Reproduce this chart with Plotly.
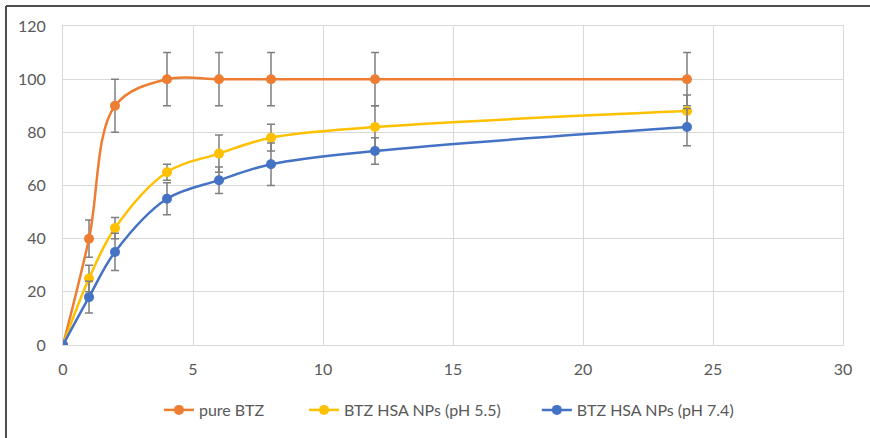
import plotly.graph_objects as go

time_h = [0, 1, 2, 4, 6, 8, 12, 24]
pure_btz = [0, 40, 90, 100, 100, 100, 100, 100]
pure_btz_err = [0, 7, 10, 10, 10, 10, 10, 10]
ph55 = [0, 25, 44, 65, 72, 78, 82, 88]
ph55_err = [0, 5, 4, 3, 7, 5, 8, 6]
ph74 = [0, 18, 35, 55, 62, 68, 73, 82]
ph74_err = [0, 6, 7, 6, 5, 8, 5, 7]

names = ["pure BTZ", "BTZ HSA NPs (pH 5.5)", "BTZ HSA NPs (pH 7.4)"]
colors = ["#ED7D31", "#FFC000", "#4472C4"]
series = [(pure_btz, pure_btz_err), (ph55, ph55_err), (ph74, ph74_err)]
legend_ids = ["legend", "legend2", "legend3"]
legend_x = [0.1230, 0.3090, 0.6075]

FONT = "Lato, 'Open Sans', sans-serif"

fig = go.Figure()
for name, color, (vals, errs), lid in zip(names, colors, series, legend_ids):
    fig.add_trace(go.Scatter(
        x=time_h, y=vals, name=name, mode="lines+markers", legend=lid,
        line=dict(color=color, width=2.5, shape="spline", smoothing=1),
        marker=dict(color=color, size=10),
        error_y=dict(type="data", array=errs, visible=True,
                     color="#7F7F7F", thickness=1.5, width=4),
    ))

legend_common = dict(orientation="h", xanchor="left", y=-0.2, yanchor="middle",
                     font=dict(size=16, color="#595959"), bgcolor="rgba(0,0,0,0)")

border = dict(color="#4D4D4D", width=2)
fig.update_layout(
    width=870, height=438,
    margin=dict(l=63, r=27, t=26, b=92),
    paper_bgcolor="white", plot_bgcolor="white",
    font=dict(family=FONT, size=16, color="#595959"),
    showlegend=True,
    legend=dict(x=legend_x[0], **legend_common),
    legend2=dict(x=legend_x[1], **legend_common),
    legend3=dict(x=legend_x[2], **legend_common),
    xaxis=dict(range=[0, 30], dtick=5, tick0=0, showgrid=True, gridcolor="#D9D9D9",
               gridwidth=1, zeroline=False, showline=True, linecolor="#D9D9D9",
               mirror=True, ticks="", ticklabelstandoff=10),
    yaxis=dict(range=[0, 120], dtick=20, tick0=0, showgrid=True, gridcolor="#D9D9D9",
               gridwidth=1, zeroline=False, showline=True, linecolor="#D9D9D9",
               mirror=True, ticks="", ticklabelstandoff=13),
    shapes=[
        dict(type="line", xref="paper", yref="paper", x0=-0.0731, x1=1.06,
             y0=1.0625, y1=1.0625, line=border, layer="above"),
        dict(type="line", xref="paper", yref="paper", x0=-0.0731, x1=-0.0731,
             y0=-0.4, y1=1.0625, line=border, layer="above"),
    ],
)

fig.write_html("out.html", config={"displayModeBar": False},
               post_script="document.body.style.margin='0';")
